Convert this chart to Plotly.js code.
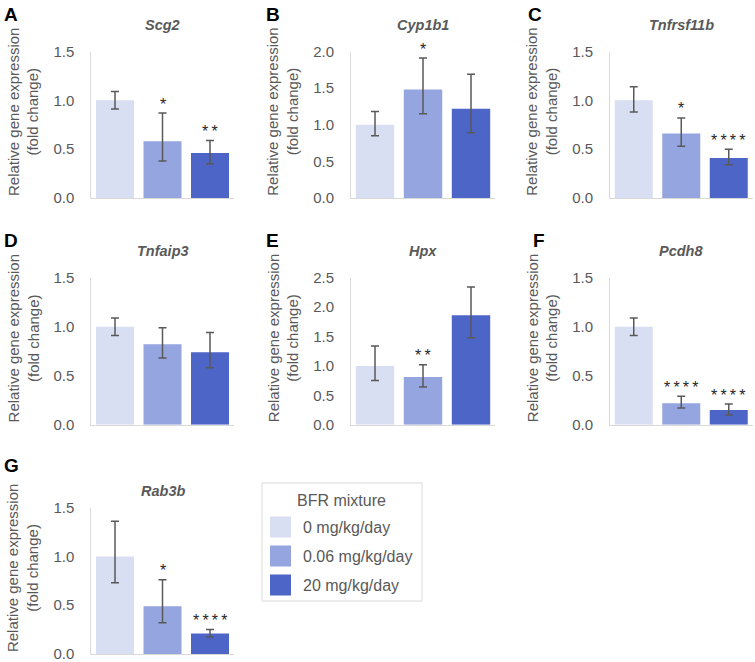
<!DOCTYPE html>
<html>
<head>
<meta charset="utf-8">
<script src="https://cdn.plot.ly/plotly-3.0.1.min.js"></script>
<style>html,body{margin:0;padding:0;background:#fff;}#chart{width:755px;height:662px;}</style>
</head>
<body>
<div id="chart"></div>
<script>
// ---------- data ----------
const groupLabels = ['0 mg/kg/day', '0.06 mg/kg/day', '20 mg/kg/day'];
const legendTitle = 'BFR mixture';
const groupColors = ['#D9DFF3', '#94A5DF', '#4E65C8'];

const panelLetters = ['A', 'B', 'C', 'D', 'E', 'F', 'G'];
const geneNames = ['Scg2', 'Cyp1b1', 'Tnfrsf11b', 'Tnfaip3', 'Hpx', 'Pcdh8', 'Rab3b'];
const yMax = [1.5, 2.0, 1.5, 1.5, 2.5, 1.5, 1.5];

const scg2Mean = [1.00, 0.58, 0.46];
const scg2Plus = [0.09, 0.29, 0.13];
const scg2Minus = [0.09, 0.20, 0.11];
const scg2Stars = ['', '*', '**'];

const cyp1b1Mean = [1.00, 1.48, 1.22];
const cyp1b1Plus = [0.18, 0.43, 0.47];
const cyp1b1Minus = [0.15, 0.33, 0.33];
const cyp1b1Stars = ['', '*', ''];

const tnfrsf11bMean = [1.00, 0.66, 0.41];
const tnfrsf11bPlus = [0.14, 0.16, 0.09];
const tnfrsf11bMinus = [0.12, 0.13, 0.07];
const tnfrsf11bStars = ['', '*', '****'];

const tnfaip3Mean = [1.00, 0.82, 0.74];
const tnfaip3Plus = [0.09, 0.17, 0.20];
const tnfaip3Minus = [0.09, 0.14, 0.16];
const tnfaip3Stars = ['', '', ''];

const hpxMean = [1.00, 0.81, 1.86];
const hpxPlus = [0.34, 0.21, 0.48];
const hpxMinus = [0.25, 0.17, 0.38];
const hpxStars = ['', '**', ''];

const pcdh8Mean = [1.00, 0.22, 0.15];
const pcdh8Plus = [0.09, 0.07, 0.06];
const pcdh8Minus = [0.09, 0.05, 0.05];
const pcdh8Stars = ['', '****', '****'];

const rab3bMean = [1.00, 0.49, 0.21];
const rab3bPlus = [0.36, 0.27, 0.04];
const rab3bMinus = [0.27, 0.17, 0.035];
const rab3bStars = ['', '*', '****'];

const means = [scg2Mean, cyp1b1Mean, tnfrsf11bMean, tnfaip3Mean, hpxMean, pcdh8Mean, rab3bMean];
const pluses = [scg2Plus, cyp1b1Plus, tnfrsf11bPlus, tnfaip3Plus, hpxPlus, pcdh8Plus, rab3bPlus];
const minuses = [scg2Minus, cyp1b1Minus, tnfrsf11bMinus, tnfaip3Minus, hpxMinus, pcdh8Minus, rab3bMinus];
const stars = [scg2Stars, cyp1b1Stars, tnfrsf11bStars, tnfaip3Stars, hpxStars, pcdh8Stars, rab3bStars];

// ---------- layout geometry (pixels) ----------
const W = 755, H = 662;
const px = v => v / W;
const py = v => 1 - v / H;
const colDom = [[91.25, 233.75], [351, 495], [610, 752.5]];
const rowDom = [[51.5, 198], [277.7, 424.7], [507.7, 654]];
const titleY = [25, 251, 491];
const letterPos = [[2, 14], [264, 14], [526, 14], [2, 240], [264, 240], [531, 240], [2, 465]];

const FONT = '"Liberation Sans", Arial, sans-serif';
const GREY = '#595959';
const AXIS = '#d9d9d9';

const traces = [];
const annotations = [];
const shapes = [];
const layout = {
  width: W, height: H,
  margin: {l: 0, r: 0, t: 0, b: 0},
  paper_bgcolor: '#fff', plot_bgcolor: 'rgba(0,0,0,0)',
  showlegend: false,
  font: {family: FONT, color: GREY},
  annotations: annotations,
  shapes: shapes
};

for (let i = 0; i < 7; i++) {
  const col = i % 3, row = Math.floor(i / 3);
  const n = i + 1;
  const xa = 'x' + (n === 1 ? '' : n), ya = 'y' + (n === 1 ? '' : n);
  const xk = 'xaxis' + (n === 1 ? '' : n), yk = 'yaxis' + (n === 1 ? '' : n);
  const xd = colDom[col], yd = rowDom[row];

  traces.push({
    type: 'bar', x: [0, 1, 2], y: means[i], xaxis: xa, yaxis: ya,
    width: 0.8,
    marker: {color: groupColors, line: {width: 0}},
    error_y: {type: 'data', symmetric: false, array: pluses[i], arrayminus: minuses[i],
              color: GREY, thickness: 1.5, width: 4},
    hoverinfo: 'none', cliponaxis: false
  });

  layout[xk] = {
    domain: [px(xd[0]), px(xd[1])], anchor: ya, range: [-0.5, 2.5],
    showline: true, linecolor: AXIS, linewidth: 1.2,
    showticklabels: false, ticks: '', showgrid: false, zeroline: false, fixedrange: true
  };
  layout[yk] = {
    domain: [py(yd[1]), py(yd[0])], anchor: xa, range: [0, yMax[i]],
    tick0: 0, dtick: 0.5, tickformat: '.1f',
    showline: true, linecolor: AXIS, linewidth: 1,
    ticks: '', ticklabelstandoff: 13, ticklabeloverflow: 'allow',
    showgrid: false, zeroline: false, fixedrange: true,
    tickfont: {family: FONT, size: 15, color: GREY}
  };

  // significance stars
  for (let k = 0; k < 3; k++) {
    if (!stars[i][k]) continue;
    annotations.push({
      xref: xa, yref: ya, x: k, y: means[i][k] + pluses[i][k],
      text: stars[i][k].split('').join('\u2009'), showarrow: false,
      xanchor: 'center', yanchor: 'middle', yshift: 9,
      font: {family: FONT, size: 16, color: '#262626'}
    });
  }

  // gene title
  annotations.push({
    xref: 'paper', yref: 'paper', x: px((xd[0] + xd[1]) / 2), y: py(titleY[row]),
    text: '<b><i>' + geneNames[i] + '</i></b>', showarrow: false,
    xanchor: 'center', yanchor: 'middle',
    font: {family: FONT, size: 14.5, color: GREY}
  });

  // y axis title
  annotations.push({
    xref: 'paper', yref: 'paper', x: px(xd[0] - 68), y: py((yd[0] + yd[1]) / 2 - 13),
    text: 'Relative gene expression<br>(fold change)', showarrow: false, textangle: -90,
    xanchor: 'center', yanchor: 'middle',
    font: {family: FONT, size: 15, color: GREY}
  });

  // panel letter
  annotations.push({
    xref: 'paper', yref: 'paper', x: px(letterPos[i][0]), y: py(letterPos[i][1]),
    text: '<b>' + panelLetters[i] + '</b>', showarrow: false,
    xanchor: 'left', yanchor: 'middle',
    font: {family: FONT, size: 19, color: '#000'}
  });
}

// ---------- custom legend ----------
shapes.push({type: 'rect', xref: 'paper', yref: 'paper',
  x0: px(262), x1: px(422), y0: py(601), y1: py(483),
  line: {color: AXIS, width: 1}, fillcolor: 'rgba(0,0,0,0)'});
annotations.push({xref: 'paper', yref: 'paper', x: px(341), y: py(500),
  text: legendTitle, showarrow: false, xanchor: 'center', yanchor: 'middle',
  font: {family: FONT, size: 16, color: GREY}});
const legendRowY = [527, 556, 585];
for (let k = 0; k < 3; k++) {
  shapes.push({type: 'rect', xref: 'paper', yref: 'paper',
    x0: px(270), x1: px(291), y0: py(legendRowY[k] + 10.5), y1: py(legendRowY[k] - 10.5),
    line: {width: 0}, fillcolor: groupColors[k]});
  annotations.push({xref: 'paper', yref: 'paper', x: px(301), y: py(legendRowY[k]),
    text: groupLabels[k], showarrow: false, xanchor: 'left', yanchor: 'middle',
    font: {family: FONT, size: 16, color: GREY}});
}

Plotly.newPlot('chart', traces, layout, {displayModeBar: false, staticPlot: true});
</script>
</body>
</html>
